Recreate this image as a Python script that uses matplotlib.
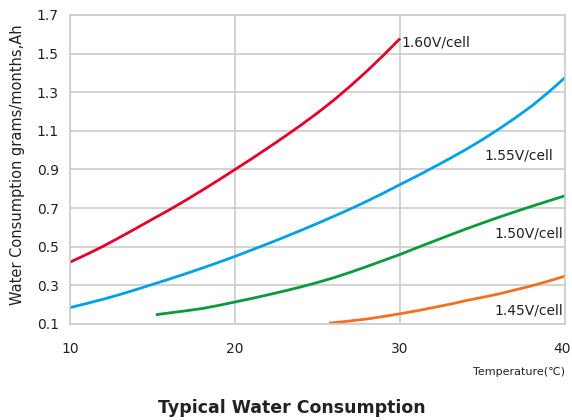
import matplotlib
matplotlib.use("Agg")
import matplotlib.pyplot as plt
import matplotlib.transforms as mtransforms

# values (one per degree)
temp_160 = [10, 11, 12, 13, 14, 15, 16, 17, 18, 19, 20,
            21, 22, 23, 24, 25, 26, 27, 28, 29, 30]
water_160 = [0.42, 0.46, 0.502, 0.548, 0.595, 0.643, 0.69, 0.74, 0.792, 0.845, 0.90,
             0.955, 1.012, 1.07, 1.13, 1.193, 1.26, 1.333, 1.41, 1.492, 1.578]

temp_155 = [10, 11, 12, 13, 14, 15, 16, 17, 18, 19, 20,
            21, 22, 23, 24, 25, 26, 27, 28, 29, 30,
            31, 32, 33, 34, 35, 36, 37, 38, 39, 40]
water_155 = [0.185, 0.206, 0.228, 0.252, 0.278, 0.305, 0.332, 0.36, 0.389, 0.419, 0.45,
             0.483, 0.516, 0.55, 0.585, 0.621, 0.658, 0.696, 0.736, 0.778, 0.822,
             0.865, 0.91, 0.956, 1.004, 1.055, 1.11, 1.168, 1.23, 1.30, 1.376]

temp_150 = [15.2, 16, 17, 18, 19, 20, 21, 22, 23, 24, 25, 26, 27,
            28, 29, 30, 31, 32, 33, 34, 35, 36, 37, 38, 39, 40]
water_150 = [0.148, 0.157, 0.168, 0.18, 0.196, 0.214, 0.232, 0.251, 0.271, 0.292,
             0.315, 0.34, 0.368, 0.398, 0.429, 0.46, 0.494, 0.527, 0.56, 0.592,
             0.623, 0.653, 0.682, 0.71, 0.737, 0.764]

temp_145 = [25.7, 27, 28, 29, 30, 31, 32, 33, 34, 35, 36, 37, 38, 39, 40]
water_145 = [0.104, 0.116, 0.126, 0.139, 0.153, 0.168, 0.185, 0.202, 0.221, 0.238,
             0.256, 0.277, 0.298, 0.322, 0.348]

x_ticks = [10, 20, 30, 40]
y_ticks = [0.1, 0.3, 0.5, 0.7, 0.9, 1.1, 1.3, 1.5, 1.7]

fig = plt.figure(figsize=(5.72, 4.2), dpi=100)
ax = fig.add_axes([0.1224, 0.2286, 0.8654, 0.7357])

grid_col = "#cccccc"
txt_col = "#222222"
lw = 2.0
ax.plot(temp_160, water_160, color="#e4002b", lw=lw, solid_capstyle="butt")
ax.plot(temp_155, water_155, color="#00a0e9", lw=lw, solid_capstyle="butt")
ax.plot(temp_150, water_150, color="#0a9a3c", lw=lw, solid_capstyle="butt")
ax.plot(temp_145, water_145, color="#f37021", lw=lw, solid_capstyle="butt")

ax.set_xlim(10, 40)
ax.set_ylim(0.1, 1.7)
ax.set_xticks(x_ticks)
ax.set_yticks(y_ticks)
ax.set_xticklabels([str(v) for v in x_ticks])
ax.set_yticklabels([f"{v:.1f}" for v in y_ticks])
ax.grid(True, color=grid_col, lw=1.2)
for s in ax.spines.values():
    s.set_color(grid_col)
    s.set_linewidth(1.2)
ax.tick_params(length=0, labelsize=10, colors=txt_col)
ax.tick_params(axis="x", pad=13)
ax.tick_params(axis="y", pad=8)
# nudge the last x label a little so it stays inside the figure
last = ax.get_xticklabels()[-1]
last.set_transform(last.get_transform() +
                   mtransforms.ScaledTranslation(-0.03, 0, fig.dpi_scale_trans))

# curve labels
lab = dict(fontsize=10, color=txt_col)
ax.text(30.06, 1.556, "1.60V/cell", ha="left", va="center", **lab)
ax.text(39.27, 0.97, "1.55V/cell", ha="right", va="center", **lab)
ax.text(39.88, 0.57, "1.50V/cell", ha="right", va="center", **lab)
ax.text(39.88, 0.172, "1.45V/cell", ha="right", va="center", **lab)

fig.text(18 / 572, 1 - 165 / 420, "Water Consumption grams/months,Ah",
         rotation=90, ha="center", va="center", fontsize=10.5, color=txt_col)
fig.text(565 / 572, 1 - 372 / 420, "Temperature(℃)", ha="right", va="center",
         fontsize=8, color=txt_col)
fig.text(292 / 572, 1 - 408 / 420, "Typical Water Consumption", ha="center",
         va="center", fontsize=12.5, fontweight="bold", color=txt_col)

fig.savefig("out.png", dpi=100)
